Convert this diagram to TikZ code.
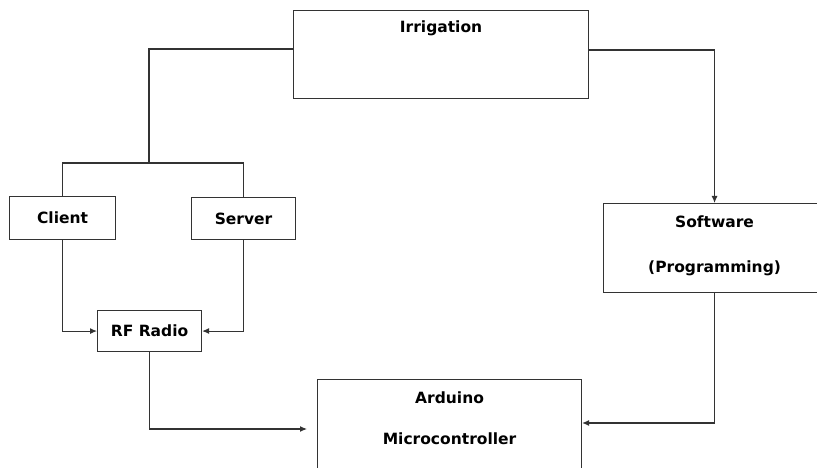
\documentclass[tikz,border=0pt]{standalone}
\usepackage{fontspec}
\setmainfont{DejaVu Sans}
\usetikzlibrary{positioning,arrows.meta,calc}

\begin{document}
\begin{tikzpicture}[x=1pt, y=1pt, font=\bfseries\fontsize{15.5}{18}\selectfont,
  box/.style={draw=black!80, line width=1.1pt, inner sep=0pt, anchor=north west},
  wire/.style={draw=black!80, line width=1.1pt},
  arr/.style={wire, -{Latex[length=7pt,width=6pt]}}]

% Page frame (the right and bottom boxes run past it)
\useasboundingbox (0,0) rectangle (817,-468);
\clip (0,0) rectangle (817,-468);

% Boxes, placed by their top left corners
\node[box, minimum width=295, minimum height=88] (Irr) at (293,-10) {};
\node[box, minimum width=106, minimum height=43] (Client) at (9,-196) {};
\node[box, minimum width=104, minimum height=42] (Server) at (191,-197) {};
\node[box, minimum width=104, minimum height=41] (RF) at (97,-310) {};
\node[box, minimum width=222, minimum height=89] (Soft) at (603,-203) {};
\node[box, minimum width=264, minimum height=120] (Ard) at (317,-379) {};

% Box texts
\node (IrrTxt) at ($(Irr.north)+(0,-18)$) {Irrigation};
\node (ClientTxt) at (Client.center) {Client};
\node (ServerTxt) at (Server.center) {Server};
\node (RFTxt) at (RF.center) {RF Radio};
\node[align=center] (SoftTxt) at ($(Soft.north)+(0,-43)$) {Software\\[27pt](Programming)};
\node (ArdTxt) at ($(Ard.north)+(0,-19)$) {Arduino};
\node (MicroTxt) at ($(Ard.north)+(0,-60)$) {Microcontroller};

% Connection points
\coordinate (IrrL) at ($(Irr.north west)+(0,-39)$);
\coordinate (IrrR) at ($(Irr.north east)+(0,-40)$);
\coordinate (Split) at (149,-163);
\coordinate (ArdIn) at ($(Ard.north west)+(-10,-50)$);
\coordinate (ArdR) at ($(Ard.north east)+(0,-44)$);

% Irrigation to client and server
\draw[wire] (IrrL) -| (Split);
\draw[wire] (Client.north) |- (Split) -| (Server.north);

% Irrigation to software
\draw[arr] (IrrR) -| (Soft.north);

% Client and server into the radio
\draw[arr] (Client.south) |- (RF.west);
\draw[arr] (Server.south) |- (RF.east);

% Radio and software into the Arduino
\draw[arr] (RF.south) |- (ArdIn);
\draw[arr] (Soft.south) |- (ArdR);

\end{tikzpicture}
\end{document}
